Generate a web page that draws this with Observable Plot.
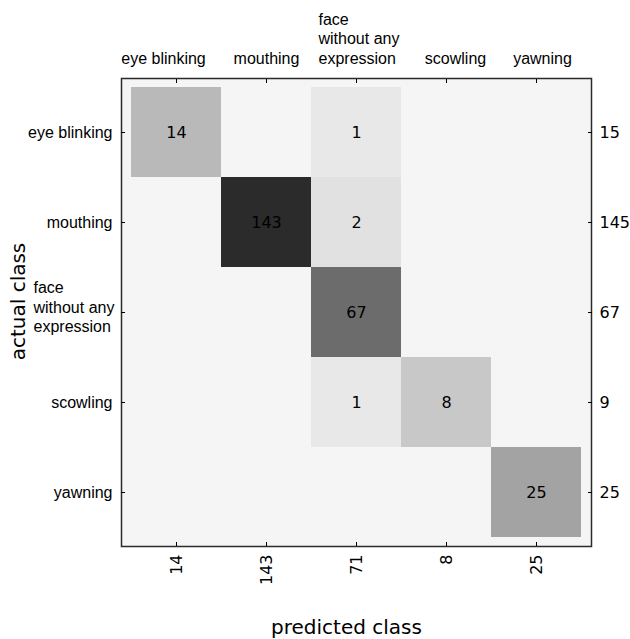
<!DOCTYPE html>
<html><head><meta charset="utf-8">
<script src="https://cdn.jsdelivr.net/npm/d3@7"></script>
<script src="https://cdn.jsdelivr.net/npm/@observablehq/plot@0.6"></script>
<style>body{margin:0;background:#fff}</style>
</head><body><div id="chart"></div>
<script>
const classes = ["eye blinking", "mouthing", "face without any expression", "scowling", "yawning"];
const topLabels = ["eye blinking", "mouthing", "", "scowling", "yawning"];
const faceLabel = "face\nwithout any\nexpression";
const matrix = [
  [14, 0, 1, 0, 0],
  [0, 143, 2, 0, 0],
  [0, 0, 67, 0, 0],
  [0, 0, 1, 8, 0],
  [0, 0, 0, 0, 25]
];
const rowTotals = [15, 145, 67, 9, 25];
const colTotals = [14, 143, 71, 8, 25];

const cells = [];
matrix.forEach((row, i) => row.forEach((v, j) => {
  if (v > 0) cells.push({actual: classes[i], predicted: classes[j], value: v});
}));
const faceRow = [{c: classes[2], t: faceLabel}];

// small horizontal nudges of the top labels (layout only)
const topNudge = [-13, 0, 0, 9, 6];
const labelFont = {fontFamily: "Liberation Sans", fontSize: 16};

const topAxes = classes.map((c, i) => Plot.axisX([c], {
  anchor: "top", tickSize: 0, tickPadding: 15, label: null, dx: topNudge[i],
  tickFormat: () => topLabels[i], ...labelFont
}));

const chart = Plot.plot({
  width: 630, height: 639,
  marginLeft: 121, marginRight: 39, marginTop: 78, marginBottom: 93,
  insetLeft: 9, insetRight: 9, insetTop: 8, insetBottom: 8,
  style: {fontFamily: "DejaVu Sans", background: "#fff", color: "#000"},
  x: {domain: classes, padding: 0},
  y: {domain: classes, padding: 0},
  color: {type: "sqrt", domain: [0, 143], range: ["#f9f9f9", "#2b2b2b"]},
  marks: [
    Plot.frame({fill: "#f5f5f5", stroke: "#2a2a2a", strokeWidth: 1.5}),
    Plot.cell(cells, {x: "predicted", y: "actual", fill: "value"}),
    Plot.text(cells, {x: "predicted", y: "actual", text: d => d.value, fontSize: 16, fill: "#000"}),
    Plot.axisX({anchor: "top", tickSize: -4, text: null, label: null}),
    ...topAxes,
    Plot.text(faceRow, {x: "c", text: "t", frameAnchor: "top", textAnchor: "start", lineAnchor: "bottom",
      lineHeight: 1.2, dx: -38, dy: -15, ...labelFont}),
    Plot.axisY({anchor: "left", tickSize: -4, tickPadding: 13, label: null,
      tickFormat: d => d === classes[2] ? "" : d, ...labelFont}),
    Plot.text(faceRow, {y: "c", text: "t", frameAnchor: "left", textAnchor: "start", lineAnchor: "middle",
      lineHeight: 1.2, dx: -88, dy: -6, ...labelFont}),
    Plot.axisY({anchor: "right", tickSize: -4, tickPadding: 12, label: null,
      tickFormat: d => rowTotals[classes.indexOf(d)], fontSize: 16}),
    Plot.axisX({anchor: "bottom", tickSize: -4, tickPadding: 12, tickRotate: -90, label: null,
      tickFormat: d => colTotals[classes.indexOf(d)], fontSize: 16}),
    Plot.text(["predicted class"], {frameAnchor: "bottom", lineAnchor: "middle", textAnchor: "middle",
      dy: 81, dx: -10, fontSize: 20}),
    Plot.text(["actual class"], {frameAnchor: "left", textAnchor: "middle", lineAnchor: "middle",
      dx: -103, dy: -11, rotate: -90, fontSize: 20})
  ]
});
document.getElementById("chart").appendChild(chart);
</script>
</body></html>
